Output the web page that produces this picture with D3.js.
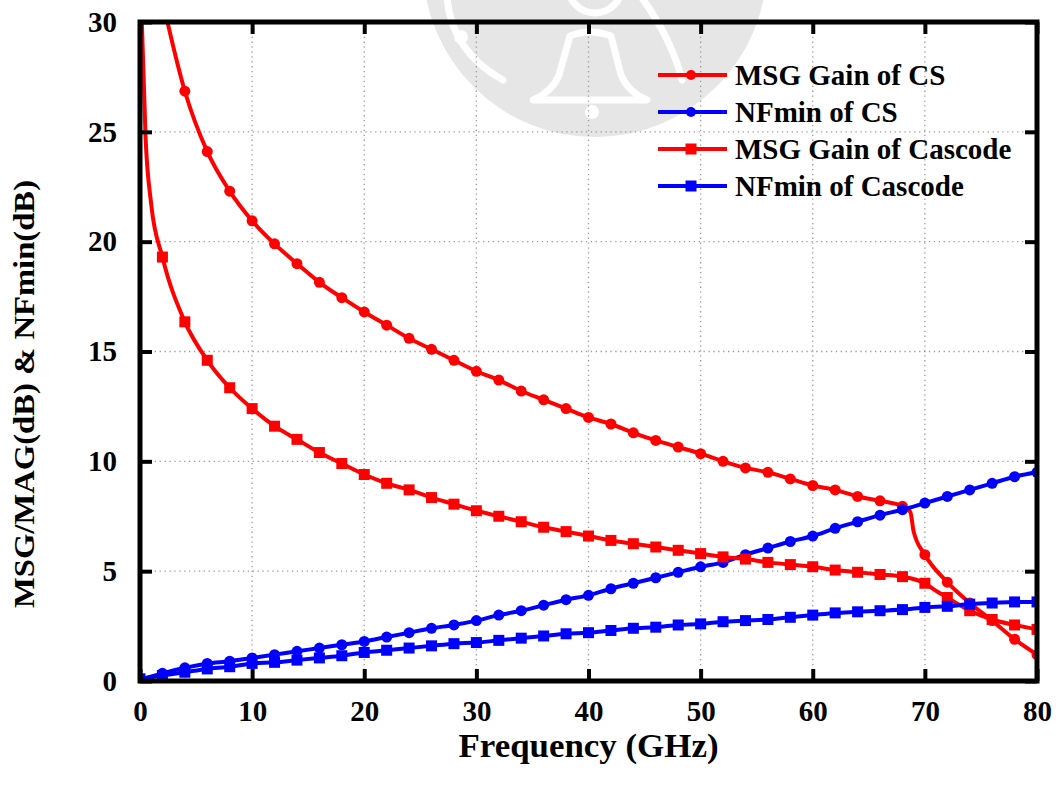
<!DOCTYPE html>
<html>
<head>
<meta charset="utf-8">
<script src="https://cdn.jsdelivr.net/npm/d3@7"></script>
<style>
  body { margin: 0; background: #fff; }
  text { font-family: "Liberation Serif", "Times New Roman", serif; font-weight: bold; }
</style>
</head>
<body>
<div id="chart"></div>
<script>
// Data (frequency in GHz, values in dB)
const freqMsgCS = [2, 4, 6, 8, 10, 12, 14, 16, 18, 20, 22, 24, 26, 28, 30, 32, 34, 36, 38, 40,
    42, 44, 46, 48, 50, 52, 54, 56, 58, 60, 62, 64, 66, 68, 68.7, 69, 70, 72, 74, 76, 78, 80];
const msgCS = [31.0, 26.85, 24.1, 22.3, 20.95, 19.9, 19.0, 18.15, 17.45, 16.8, 16.2, 15.6, 15.1, 14.6, 14.1, 13.7, 13.2, 12.8, 12.4, 12.0,
    11.7, 11.3, 10.95, 10.65, 10.35, 10.0, 9.7, 9.5, 9.2, 8.9, 8.7, 8.4, 8.2, 7.95, 7.7, 6.8, 5.75, 4.5, 3.55, 2.75, 1.9, 1.2];

const freqMsgCascode = [0.1, 0.5, 1, 2, 4, 6, 8, 10, 12, 14, 16, 18, 20, 22, 24, 26, 28, 30, 32, 34, 36, 38, 40,
    42, 44, 46, 48, 50, 52, 54, 56, 58, 60, 62, 64, 66, 68, 70, 71, 72, 74, 76, 78, 80];
const msgCascode = [31.0, 24.7, 21.7, 19.3, 16.35, 14.6, 13.35, 12.4, 11.6, 11.0, 10.4, 9.9, 9.4, 9.0, 8.7, 8.35, 8.05, 7.75, 7.5, 7.25, 7.0, 6.8, 6.6,
    6.4, 6.25, 6.1, 5.95, 5.8, 5.65, 5.55, 5.4, 5.3, 5.2, 5.05, 4.95, 4.85, 4.75, 4.45, 4.1, 3.8, 3.2, 2.8, 2.55, 2.35];

const freqNF = [0, 2, 4, 6, 8, 10, 12, 14, 16, 18, 20, 22, 24, 26, 28, 30, 32, 34, 36, 38, 40,
    42, 44, 46, 48, 50, 52, 54, 56, 58, 60, 62, 64, 66, 68, 70, 72, 74, 76, 78, 80];
const nfCS = [0.05, 0.35, 0.6, 0.8, 0.9, 1.05, 1.2, 1.35, 1.5, 1.65, 1.8, 2.0, 2.2, 2.4, 2.55, 2.75, 3.0, 3.2, 3.45, 3.7, 3.9,
    4.2, 4.45, 4.7, 4.95, 5.2, 5.4, 5.75, 6.05, 6.35, 6.6, 6.95, 7.25, 7.55, 7.8, 8.1, 8.4, 8.7, 9.0, 9.3, 9.5];
const nfCascode = [0.1, 0.25, 0.4, 0.55, 0.65, 0.8, 0.85, 0.95, 1.05, 1.15, 1.3, 1.4, 1.5, 1.6, 1.7, 1.75, 1.85, 1.95, 2.05, 2.15, 2.2,
    2.3, 2.4, 2.45, 2.55, 2.6, 2.7, 2.75, 2.8, 2.9, 3.0, 3.1, 3.15, 3.2, 3.25, 3.35, 3.4, 3.5, 3.55, 3.6, 3.6];

const seriesNames = ["MSG Gain of CS", "NFmin of CS", "MSG Gain of Cascode", "NFmin of Cascode"];
const xTicks = [0, 10, 20, 30, 40, 50, 60, 70, 80];
const yTicks = [0, 5, 10, 15, 20, 25, 30];

const series = [
    { name: seriesNames[0], freq: freqMsgCS, values: msgCS, color: "#ff0000", marker: "circle" },
    { name: seriesNames[1], freq: freqNF, values: nfCS, color: "#0000ff", marker: "circle" },
    { name: seriesNames[2], freq: freqMsgCascode, values: msgCascode, color: "#ff0000", marker: "square" },
    { name: seriesNames[3], freq: freqNF, values: nfCascode, color: "#0000ff", marker: "square" }
];

// Dimensions
const W = 1057, H = 789;
const plotLeft = 140, plotRight = 1037, plotTop = 22, plotBottom = 681;

const svg = d3.select("#chart")
    .append("svg")
    .attr("width", W)
    .attr("height", H);

svg.append("rect").attr("width", W).attr("height", H).attr("fill", "#fff");

// Faint watermark behind the plot
const wm = svg.append("g");
wm.append("circle").attr("cx", 595).attr("cy", -35).attr("r", 172).attr("fill", "#e6e6e6");
const wmStroke = (sel) => sel.attr("fill", "none").attr("stroke", "#fff")
    .attr("stroke-width", 7).attr("stroke-linecap", "round").attr("stroke-linejoin", "round");
wm.append("path").attr("d", "M570,36 Q590,28 611,36 L621,75 Q628,92 647,100 L533,100 Q552,92 559,75 Z").call(wmStroke);
wm.append("circle").attr("cx", 592).attr("cy", 112).attr("r", 7).attr("fill", "#fff");
wm.append("circle").attr("cx", 595).attr("cy", -14).attr("r", 27).call(wmStroke);
wm.append("path").attr("d", "M447,-2 Q452,52 503,80").call(wmStroke);
wm.append("circle").attr("cx", 461).attr("cy", 37).attr("r", 7).attr("fill", "#fff");
wm.append("path").attr("d", "M642,-2 Q672,40 682,80").call(wmStroke);

// Scales
const x = d3.scaleLinear().domain([0, 80]).range([plotLeft, plotRight]);
const y = d3.scaleLinear().domain([0, 30]).range([plotBottom, plotTop]);

// Grid
const grid = svg.append("g")
    .attr("stroke", "#9a9a9a")
    .attr("stroke-width", 1.3)
    .attr("stroke-dasharray", "1.3,3.6");
grid.selectAll(".gx").data(xTicks.slice(1, -1)).join("line")
    .attr("x1", d => x(d)).attr("x2", d => x(d))
    .attr("y1", plotTop).attr("y2", plotBottom);
grid.selectAll(".gy").data(yTicks.slice(1, -1)).join("line")
    .attr("x1", plotLeft).attr("x2", plotRight)
    .attr("y1", d => y(d)).attr("y2", d => y(d));

// Clip for the curves
svg.append("clipPath").attr("id", "plot-clip")
    .append("rect")
    .attr("x", plotLeft).attr("y", plotTop)
    .attr("width", plotRight - plotLeft).attr("height", plotBottom - plotTop);

const line = d3.line()
    .x(d => x(d[0]))
    .y(d => y(d[1]))
    .curve(d3.curveMonotoneX);

const plot = svg.append("g").attr("clip-path", "url(#plot-clip)");

function drawMarker(g, type, cx, cy, color, size) {
    if (type === "circle") {
        g.append("circle").attr("cx", cx).attr("cy", cy).attr("r", size / 2).attr("fill", color);
    } else {
        g.append("rect").attr("x", cx - size / 2).attr("y", cy - size / 2)
            .attr("width", size).attr("height", size).attr("fill", color);
    }
}

series.forEach(s => {
    const pts = s.freq.map((f, i) => [f, s.values[i]]);
    plot.append("path")
        .datum(pts)
        .attr("fill", "none")
        .attr("stroke", s.color)
        .attr("stroke-width", 4)
        .attr("d", line);
    const g = plot.append("g");
    pts.filter(p => p[0] % 2 === 0).forEach(p => {
        drawMarker(g, s.marker, x(p[0]), y(p[1]), s.color, 11);
    });
});

// Axes (ticks point inward)
function styleAxis(g) {
    g.select(".domain").remove();
    g.selectAll(".tick line").attr("stroke", "#000").attr("stroke-width", 4);
    g.selectAll(".tick text").attr("fill", "#000").style("font-size", "29px")
        .style("font-family", "'Liberation Serif', 'Times New Roman', serif").style("font-weight", "bold");
}

svg.append("g")
    .attr("transform", `translate(0,${plotBottom})`)
    .call(d3.axisBottom(x).tickValues(xTicks).tickSizeInner(-12).tickSizeOuter(0).tickPadding(19))
    .call(styleAxis);

svg.append("g")
    .attr("transform", `translate(0,${plotTop})`)
    .call(d3.axisTop(x).tickValues(xTicks).tickSizeInner(-12).tickSizeOuter(0).tickFormat(""))
    .call(styleAxis);

svg.append("g")
    .attr("transform", `translate(${plotLeft},0)`)
    .call(d3.axisLeft(y).tickValues(yTicks).tickSizeInner(-12).tickSizeOuter(0).tickPadding(23))
    .call(styleAxis);

svg.append("g")
    .attr("transform", `translate(${plotRight},0)`)
    .call(d3.axisRight(y).tickValues(yTicks).tickSizeInner(-12).tickSizeOuter(0).tickFormat(""))
    .call(styleAxis);

// Frame
svg.append("rect")
    .attr("x", plotLeft).attr("y", plotTop)
    .attr("width", plotRight - plotLeft).attr("height", plotBottom - plotTop)
    .attr("fill", "none")
    .attr("stroke", "#000")
    .attr("stroke-width", 5);

// Axis titles
svg.append("text")
    .attr("x", (plotLeft + plotRight) / 2)
    .attr("y", 757)
    .attr("text-anchor", "middle")
    .style("font-size", "33px")
    .attr("textLength", 260)
    .attr("lengthAdjust", "spacingAndGlyphs")
    .text("Frequency (GHz)");

svg.append("text")
    .attr("transform", "translate(34,394) rotate(-90)")
    .attr("text-anchor", "middle")
    .style("font-size", "30px")
    .attr("textLength", 428)
    .attr("lengthAdjust", "spacingAndGlyphs")
    .text("MSG/MAG(dB) & NFmin(dB)");

// Legend
const legend = svg.append("g");
series.forEach((s, i) => {
    const ly = 75 + i * 37;
    legend.append("line")
        .attr("x1", 658).attr("x2", 727)
        .attr("y1", ly).attr("y2", ly)
        .attr("stroke", s.color)
        .attr("stroke-width", 4);
    drawMarker(legend, s.marker, 691, ly, s.color, s.marker === "circle" ? 10 : 11);
    legend.append("text")
        .attr("x", 735)
        .attr("y", ly + 10)
        .style("font-size", "29px")
        .text(s.name);
});
</script>
</body>
</html>
